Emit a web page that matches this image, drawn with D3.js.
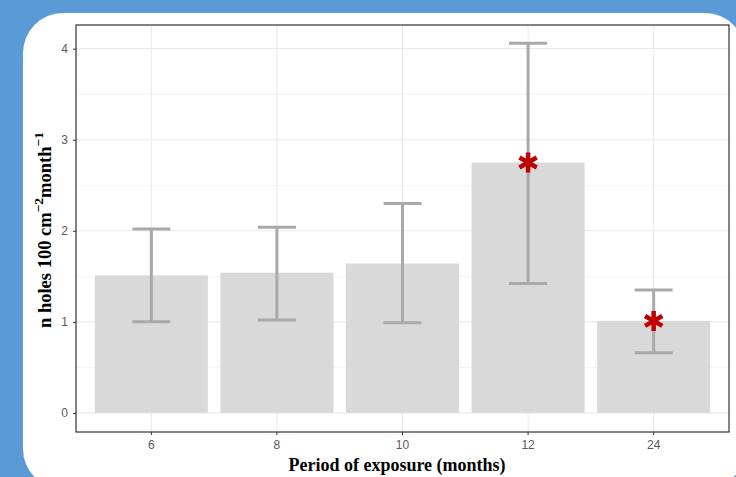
<!DOCTYPE html>
<html>
<head>
	<meta charset="utf-8">
	<script src="https://cdn.jsdelivr.net/npm/d3@7/dist/d3.min.js"></script>
</head>
<style type="text/css">
	body { margin:0; background-color:#5b9bd5; overflow:hidden; }
	.tick text { fill:#595959; font-family:"Liberation Sans", Arial, sans-serif; font-size:12px; }
</style>
<body>
</body>
<script type="text/javascript">
	var periods = ["6", "8", "10", "12", "24"];
	var means = [1.51, 1.54, 1.64, 2.75, 1.01];
	var upper = [2.02, 2.04, 2.30, 4.06, 1.35];
	var lower = [1.00, 1.02, 0.99, 1.42, 0.66];
	var significant = [false, false, false, true, true];
	var yTicks = [0, 1, 2, 3, 4];
	var yMinor = [0.5, 1.5, 2.5, 3.5];

	var width = 736, height = 477;
	var margin = {left:76, right:7, top:25, bottom:45};
	var w = width - margin.left - margin.right;
	var h = height - margin.top - margin.bottom;

	var svg = d3.select("body").append("svg").attr("width", width).attr("height", height);

	// white rounded card behind the plot
	svg.append("rect").attr("x", 23).attr("y", 13).attr("width", 722).attr("height", 476)
		.attr("rx", 40).attr("fill", "#fff");

	var g = svg.append("g").attr("transform", "translate(" + margin.left + "," + margin.top + ")");

	// ggplot style: bar width 0.9, expansion 0.6 each side
	var x = d3.scaleBand().domain(periods).range([0, w]).paddingInner(0.1).paddingOuter(0.15);
	var cx = function(d){ return x(d) + x.bandwidth() / 2; };
	var y = d3.scaleLinear().domain([-0.21, 4.26]).range([h, 0]);

	// grid
	g.selectAll(".minor").data(yMinor).enter().append("line")
		.attr("x1", 0).attr("x2", w).attr("y1", y).attr("y2", y)
		.attr("stroke", "#ebebeb").attr("stroke-width", 0.6);
	g.selectAll(".major").data(yTicks).enter().append("line")
		.attr("x1", 0).attr("x2", w).attr("y1", y).attr("y2", y)
		.attr("stroke", "#ebebeb").attr("stroke-width", 1.1);
	g.selectAll(".vgrid").data(periods).enter().append("line")
		.attr("x1", cx).attr("x2", cx).attr("y1", 0).attr("y2", h)
		.attr("stroke", "#ebebeb").attr("stroke-width", 1.1);

	// bars
	g.selectAll(".bar").data(periods).enter().append("rect")
		.attr("x", function(d){ return x(d); })
		.attr("width", x.bandwidth())
		.attr("y", function(d, i){ return y(means[i]); })
		.attr("height", function(d, i){ return y(0) - y(means[i]); })
		.attr("fill", "#d9d9d9");

	// error bars
	var capW = 19;
	var eb = g.selectAll(".err").data(periods).enter().append("g")
		.attr("stroke", "#a9a9a9").attr("stroke-width", 3);
	eb.append("line").attr("x1", cx).attr("x2", cx)
		.attr("y1", function(d, i){ return y(upper[i]); })
		.attr("y2", function(d, i){ return y(lower[i]); });
	eb.append("line").attr("x1", function(d){ return cx(d) - capW; }).attr("x2", function(d){ return cx(d) + capW; })
		.attr("y1", function(d, i){ return y(upper[i]); }).attr("y2", function(d, i){ return y(upper[i]); });
	eb.append("line").attr("x1", function(d){ return cx(d) - capW; }).attr("x2", function(d){ return cx(d) + capW; })
		.attr("y1", function(d, i){ return y(lower[i]); }).attr("y2", function(d, i){ return y(lower[i]); });

	// significance asterisks
	g.selectAll(".star").data(periods.filter(function(d, i){ return significant[i]; })).enter().append("path")
		.attr("d", d3.symbol(d3.symbolAsterisk, 280))
		.attr("transform", function(d){ return "translate(" + cx(d) + "," + y(means[periods.indexOf(d)]) + ")"; })
		.attr("fill", "none").attr("stroke", "#c00000").attr("stroke-width", 4.5);

	// axes
	var xAxis = g.append("g").attr("transform", "translate(0," + h + ")")
		.call(d3.axisBottom(x).tickSize(3).tickPadding(5));
	var yAxis = g.append("g").call(d3.axisLeft(y).tickValues(yTicks).tickFormat(d3.format("d")).tickSize(3).tickPadding(5));
	[xAxis, yAxis].forEach(function(a){
		a.select(".domain").remove();
		a.selectAll(".tick line").attr("stroke", "#333");
	});

	// panel border
	g.append("rect").attr("width", w).attr("height", h)
		.attr("fill", "none").attr("stroke", "#333").attr("stroke-width", 1.2);

	// titles
	svg.append("text").attr("x", 397).attr("y", 471).attr("text-anchor", "middle")
		.attr("font-family", "'Liberation Serif', 'Times New Roman', serif").attr("font-weight", "bold")
		.attr("font-size", 18).attr("fill", "#000").text("Period of exposure (months)");

	var yt = svg.append("text").attr("transform", "translate(51,230) rotate(-90)").attr("text-anchor", "middle")
		.attr("font-family", "'Liberation Serif', 'Times New Roman', serif").attr("font-weight", "bold")
		.attr("font-size", 18.5).attr("fill", "#000");
	yt.append("tspan").text("n holes 100 cm");
	yt.append("tspan").attr("dy", -8).attr("font-size", 13.5).text("\u22122");
	yt.append("tspan").attr("dy", 8).text("month");
	yt.append("tspan").attr("dy", -8).attr("font-size", 13.5).text("\u22121");
</script>
</html>
